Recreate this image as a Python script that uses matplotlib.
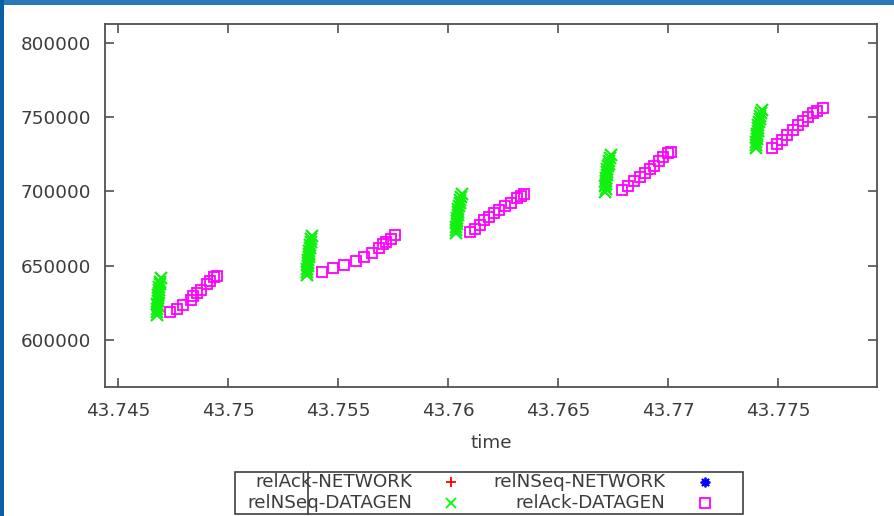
import matplotlib
matplotlib.use("Agg")
import matplotlib.pyplot as plt
from matplotlib.lines import Line2D
from matplotlib.patches import Rectangle

# relNSeq-DATAGEN samples (green x), five bursts
nseq_datagen_t = [
    43.74676, 43.74678, 43.74677, 43.74680, 43.74679, 43.74682, 43.74681,
    43.74684, 43.74686, 43.74685, 43.74688, 43.74690, 43.74692, 43.74694,
    43.75359, 43.75361, 43.75360, 43.75363, 43.75365, 43.75364, 43.75367,
    43.75369, 43.75368, 43.75372, 43.75374, 43.75376, 43.75379, 43.75382,
    43.76036, 43.76038, 43.76037, 43.76040, 43.76042, 43.76041, 43.76045,
    43.76047, 43.76046, 43.76050, 43.76053, 43.76056, 43.76060, 43.76064,
    43.76714, 43.76716, 43.76715, 43.76718, 43.76720, 43.76719, 43.76722,
    43.76725, 43.76724, 43.76728, 43.76731, 43.76734, 43.76737, 43.76741,
    43.77400, 43.77402, 43.77401, 43.77404, 43.77406, 43.77405, 43.77408,
    43.77411, 43.77410, 43.77414, 43.77417, 43.77420, 43.77424, 43.77427,
]
nseq_datagen_y = [
    617000, 619000, 620800, 622600, 624500, 626300, 628200,
    630000, 631900, 633700, 635600, 637500, 639400, 641800,
    643800, 645800, 647800, 649800, 651800, 653800, 655800,
    657800, 659800, 661800, 663800, 665800, 667900, 670000,
    672000, 674000, 676000, 678000, 680000, 682000, 684100,
    686100, 688100, 690100, 692100, 694200, 696200, 698200,
    699600, 701500, 703400, 705300, 707300, 709200, 711100,
    713000, 714900, 716800, 718700, 720600, 722600, 724500,
    729200, 731200, 733100, 735100, 737100, 739000, 741000,
    743000, 744900, 746900, 748900, 750800, 752800, 754800,
]

# relAck-DATAGEN samples (magenta squares)
ack_datagen_t = [
    43.74736, 43.74768, 43.74795, 43.74832, 43.74841, 43.74859,
    43.74877, 43.74905, 43.74918, 43.74936, 43.74950,
    43.75427, 43.75477, 43.75527, 43.75582, 43.75618, 43.75655,
    43.75686, 43.75705, 43.75718, 43.75741, 43.75759,
    43.76100, 43.76123, 43.76145, 43.76164, 43.76186, 43.76209,
    43.76232, 43.76259, 43.76286, 43.76314, 43.76332, 43.76345,
    43.76791, 43.76818, 43.76845, 43.76873, 43.76895, 43.76918,
    43.76936, 43.76959, 43.76977, 43.77000, 43.77014,
    43.77473, 43.77495, 43.77518, 43.77541, 43.77568, 43.77591,
    43.77614, 43.77636, 43.77659, 43.77677, 43.77705,
]
ack_datagen_y = [
    618840, 620860, 623560, 626920, 629610, 631630,
    633650, 637690, 639710, 642400, 643070,
    645760, 648460, 650480, 653170, 655860, 658550,
    661920, 664610, 665950, 667970, 670670,
    672680, 674700, 677400, 680760, 682780, 685470,
    687490, 690180, 692200, 695570, 696910, 698260,
    700950, 703640, 707010, 709700, 712390, 715080,
    717100, 720470, 723160, 725850, 726520,
    729220, 731910, 734600, 737970, 741330, 744700,
    747390, 750080, 752770, 754120, 756140,
]

# NETWORK series carry no points in this window
ack_network_t, ack_network_y = [], []
nseq_network_t, nseq_network_y = [], []

x_ticks = [43.745, 43.75, 43.755, 43.76, 43.765, 43.77, 43.775]
x_tick_labels = ["43.745", "43.75", "43.755", "43.76", "43.765", "43.77", "43.775"]
y_ticks = [600000, 650000, 700000, 750000, 800000]
y_tick_labels = ["600000", "650000", "700000", "750000", "800000"]

legend_labels = ["relAck-NETWORK", "relNSeq-NETWORK", "relNSeq-DATAGEN", "relAck-DATAGEN"]

W, H = 895, 516
TXT = "#3c3c3c"
FS = 13.2
ASTERISK = (8, 2, 0)

fig = plt.figure(figsize=(W / 100, H / 100), dpi=100)
fig.patch.set_facecolor("white")


def fx(px):
    return px / W


def fy(py):
    return 1 - py / H


# window frame strips
fig.patches.append(Rectangle((0, fy(5)), 1, 5 / H, transform=fig.transFigure,
                             facecolor="#2a78b8", edgecolor="none", zorder=0))
fig.patches.append(Rectangle((0, 0), 4 / W, 1, transform=fig.transFigure,
                             facecolor="#0c5ea6", edgecolor="none", zorder=0))

ax = fig.add_axes([fx(105), fy(387), fx(877) - fx(105), fy(24) - fy(387)])
ax.plot(ack_network_t, ack_network_y, ls="none", marker="+", color="#ff0000")
ax.plot(nseq_datagen_t, nseq_datagen_y, ls="none", marker="x", ms=8.5,
        mew=1.6, color="#11f011")
ax.plot(nseq_network_t, nseq_network_y, ls="none", marker=ASTERISK, color="#0000ff")
ax.plot(ack_datagen_t, ack_datagen_y, ls="none", marker="s", ms=6.8,
        mew=1.3, mfc="none", mec="#ff00ff")

ax.set_xlim(43.74441, 43.7795)
ax.set_ylim(568400, 812700)
ax.set_xticks(x_ticks)
ax.set_xticklabels(x_tick_labels)
ax.set_yticks(y_ticks)
ax.set_yticklabels(y_tick_labels)
ax.tick_params(direction="in", length=6.5, width=1.2, color="#505050",
               top=True, right=True, labelsize=FS, labelcolor=TXT)
ax.tick_params(axis="x", pad=10.5)
ax.tick_params(axis="y", pad=10)
for sp in ax.spines.values():
    sp.set_color("#505050")
    sp.set_linewidth(1.3)
ax.set_xlabel("time", fontsize=FS, color=TXT, labelpad=10.5)

# gnuplot-style key: right-aligned labels with point samples after them
rows = [482, 503]
text_right = [412, 665]
sample_x = [451, 705]
markers = [("+", "#ff0000", "#ff0000"), (ASTERISK, "#0000ff", "#0000ff"),
           ("x", "#00ff00", "#00ff00"), ("s", "none", "#ff00ff")]
for i, lab in enumerate(legend_labels):
    r, c = divmod(i, 2)
    fig.text(fx(text_right[c]), fy(rows[r]), lab, ha="right", va="center",
             fontsize=FS, color=TXT)
    m, fc, ec = markers[i]
    fig.add_artist(Line2D([fx(sample_x[c])], [fy(rows[r])], transform=fig.transFigure,
                          ls="none", marker=m, ms=7 if m != "s" else 6.5, mew=1.3,
                          mfc=fc, mec=ec))

fig.patches.append(Rectangle((fx(235), fy(514)), fx(743) - fx(235), fy(472) - fy(514),
                             transform=fig.transFigure, facecolor="none",
                             edgecolor="#404040", linewidth=1.2))
fig.add_artist(Line2D([fx(308), fx(308)], [fy(472), fy(514)], transform=fig.transFigure,
                      color="#404040", linewidth=1.2))

fig.savefig("out.png", dpi=100)
